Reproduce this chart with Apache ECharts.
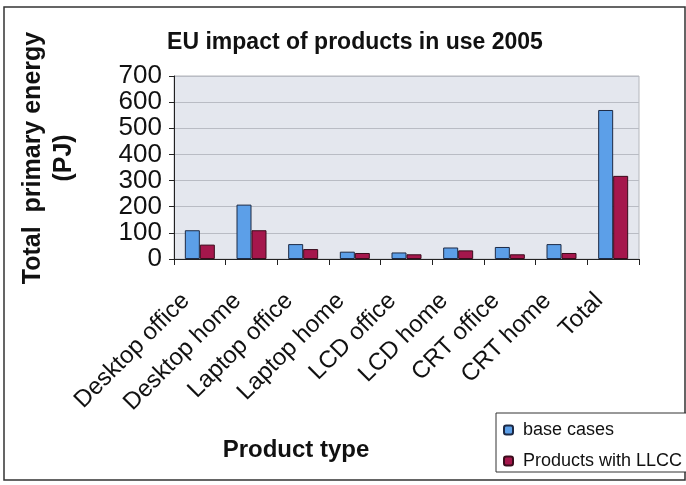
<!DOCTYPE html>
<html>
<head>
<meta charset="utf-8">
<script src="https://cdn.jsdelivr.net/npm/echarts@6/dist/echarts.min.js"></script>
<style>
  html, body { margin: 0; padding: 0; background: #ffffff; }
  #chart { width: 686px; height: 485px; }
</style>
</head>
<body>
<div id="chart"></div>
<script>
// Product categories on the x axis
const categories = ['Desktop office', 'Desktop home', 'Laptop office', 'Laptop home',
  'LCD office', 'LCD home', 'CRT office', 'CRT home', 'Total'];
// Total primary energy (PJ)
const baseCases = [110, 208, 57, 28, 25, 44, 46, 57, 570];
const withLLCC = [55, 110, 38, 23, 18, 33, 18, 23, 318];
const yTicks = [0, 100, 200, 300, 400, 500, 600, 700];

const FONT = '"Liberation Sans", Arial, sans-serif';
const chart = echarts.init(document.getElementById('chart'));

chart.setOption({
  animation: false,
  textStyle: { fontFamily: FONT },
  title: {
    text: 'EU impact of products in use 2005',
    left: 350, top: 26, textAlign: 'center',
    textStyle: { fontFamily: FONT, fontSize: 23, fontWeight: 'bold', color: '#111' }
  },
  grid: {
    left: 174, top: 76, width: 465, height: 183,
    show: true, backgroundColor: '#e4e7ee', borderColor: '#b4b6bc', borderWidth: 1
  },
  legend: {
    orient: 'vertical',
    left: 496, top: 413,
    itemWidth: 9, itemHeight: 9, itemGap: 11,
    padding: [7, 12, 1, 7],
    borderColor: '#333', borderWidth: 1,
    backgroundColor: '#fff',
    textStyle: { fontFamily: FONT, fontSize: 18, lineHeight: 20, color: '#111', padding: [0, 0, 0, 5] },
    data: ['base cases', 'Products with LLCC']
  },
  xAxis: {
    type: 'category',
    data: categories,
    boundaryGap: true,
    axisLine: { lineStyle: { color: '#222', width: 1 } },
    axisTick: { show: true, length: 6, lineStyle: { color: '#222' } },
    axisLabel: {
      rotate: 45, interval: 0, margin: 24,
      padding: [0, 20, 0, 0],
      fontFamily: FONT, fontSize: 24, color: '#111'
    },
    splitLine: { show: false }
  },
  yAxis: {
    type: 'value',
    min: yTicks[0], max: yTicks[yTicks.length - 1], interval: 100,
    axisLine: { show: true, lineStyle: { color: '#222', width: 1 } },
    axisTick: { show: true, length: 5, lineStyle: { color: '#222' } },
    axisLabel: { fontFamily: FONT, fontSize: 26, color: '#111', margin: 12 },
    splitLine: { show: true, lineStyle: { color: '#b9bcc4', width: 1 } }
  },
  series: [
    {
      name: 'base cases', type: 'bar', data: baseCases,
      barWidth: 15, barGap: '0%',
      itemStyle: { color: '#5c9fe8', borderColor: '#1d2a45', borderWidth: 1 }
    },
    {
      name: 'Products with LLCC', type: 'bar', data: withLLCC,
      barWidth: 15, barGap: '0%',
      itemStyle: { color: '#a5174c', borderColor: '#3a0c1c', borderWidth: 1 }
    }
  ],
  graphic: [
    {
      type: 'rect', silent: true, z: -10,
      shape: { x: 4, y: 7, width: 681, height: 473 },
      style: { fill: 'none', stroke: '#333', lineWidth: 1.5 }
    },
    {
      type: 'text', x: 33, y: 158, rotation: Math.PI / 2,
      style: {
        text: 'Total  primary energy', fontFamily: FONT, fontSize: 25, fontWeight: 'bold',
        fill: '#111', align: 'center', verticalAlign: 'middle'
      }
    },
    {
      type: 'text', x: 64, y: 158, rotation: Math.PI / 2,
      style: {
        text: '(PJ)', fontFamily: FONT, fontSize: 25, fontWeight: 'bold',
        fill: '#111', align: 'center', verticalAlign: 'middle'
      }
    },
    {
      type: 'text', x: 296, y: 450,
      style: {
        text: 'Product type', fontFamily: FONT, fontSize: 24, fontWeight: 'bold',
        fill: '#111', align: 'center', verticalAlign: 'middle'
      }
    }
  ]
});
</script>
</body>
</html>
